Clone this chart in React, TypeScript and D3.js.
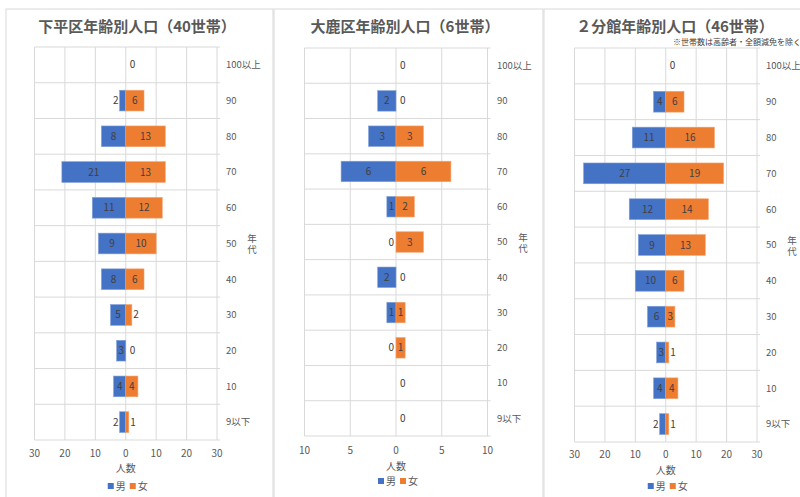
import React from "react";
import * as d3 from "d3";

const categories = ["100以上", "90", "80", "70", "60", "50", "40", "30", "20", "10", "9以下"];

const shimoMale = [0, 2, 8, 21, 11, 9, 8, 5, 3, 4, 2];
const shimoFemale = [0, 6, 13, 13, 12, 10, 6, 2, 0, 4, 1];

const oshikaMale = [0, 2, 3, 6, 1, 0, 2, 1, 0, 0, 0];
const oshikaFemale = [0, 0, 3, 6, 2, 3, 0, 1, 1, 0, 0];

const bunkanMale = [0, 4, 11, 27, 12, 9, 10, 6, 3, 4, 2];
const bunkanFemale = [0, 6, 16, 19, 14, 13, 6, 3, 1, 4, 1];

const seriesNames = ["男", "女"];
const titles = ["下平区年齢別人口（40世帯）", "大鹿区年齢別人口（6世帯）", "２分館年齢別人口（46世帯）"];
const note = "※世帯数は高齢者・全額減免を除く";
const xTicks1 = [-30, -20, -10, 0, 10, 20, 30];
const xTicks2 = [-10, -5, 0, 5, 10];

const BLUE = "#4472C4";
const ORANGE = "#ED7D31";
const GRID = "#d9d9d9";
const AXIS_TEXT = "#595959";
const LABEL = "#404040";
const FONT = "'Noto Sans CJK JP', 'Noto Sans', sans-serif";

type PanelCfg = {
  title: string;
  male: number[];
  female: number[];
  max: number;
  ticks: number[];
  frame: [number, number];
  plotL: number;
  plotR: number;
  top: number;
  bottom: number;
  titleX: number;
  tickY: number;
  axisTitleY: number;
  legendY: number;
  catX: number;
  nendaiX: number;
  note?: boolean;
};

const panels: PanelCfg[] = [
  {
    title: titles[0], male: shimoMale, female: shimoFemale, max: 30, ticks: xTicks1,
    frame: [6, 273], plotL: 34.5, plotR: 217, top: 47, bottom: 440, titleX: 137,
    tickY: 453, axisTitleY: 468, legendY: 486, catX: 226, nendaiX: 252,
  },
  {
    title: titles[1], male: oshikaMale, female: oshikaFemale, max: 10, ticks: xTicks2,
    frame: [274, 543], plotL: 304.5, plotR: 487.5, top: 48, bottom: 436, titleX: 405,
    tickY: 450, axisTitleY: 466, legendY: 481, catX: 497, nendaiX: 523,
  },
  {
    title: titles[2], male: bunkanMale, female: bunkanFemale, max: 30, ticks: xTicks1,
    frame: [544, 810], plotL: 574.5, plotR: 757, top: 48, bottom: 442, titleX: 675,
    tickY: 454, axisTitleY: 470, legendY: 486, catX: 766, nendaiX: 792, note: true,
  },
];

function Panel({ cfg }: { cfg: PanelCfg }) {
  const x = d3.scaleLinear().domain([-cfg.max, cfg.max]).range([cfg.plotL, cfg.plotR]);
  const y = d3.scaleBand<string>().domain(categories).range([cfg.top, cfg.bottom]).paddingInner(0.42).paddingOuter(0.21);
  const x0 = x(0);
  const bounds = d3.range(categories.length + 1).map((i) => cfg.top + i * ((cfg.bottom - cfg.top) / categories.length));
  const bandCenter = (c: string) => (y(c) as number) + y.bandwidth() / 2;

  return (
    <g>
      <rect x={cfg.frame[0]} y={9} width={cfg.frame[1] - cfg.frame[0]} height={520} fill="#fff" stroke={GRID} strokeWidth={1} />
      <text x={cfg.titleX} y={31.5} textAnchor="middle" fontSize={15} fontWeight="bold" fill={AXIS_TEXT}>{cfg.title}</text>
      {cfg.note && (
        <text x={673} y={44.5} fontSize={8} fill={LABEL}>{note}</text>
      )}
      {cfg.ticks.map((t) => (
        <line key={"v" + t} x1={x(t)} x2={x(t)} y1={cfg.top} y2={cfg.bottom} stroke={GRID} strokeWidth={1} />
      ))}
      {bounds.map((b, i) => (
        <line key={"h" + i} x1={cfg.plotL} x2={cfg.plotR + 3} y1={b} y2={b} stroke={GRID} strokeWidth={1} />
      ))}
      {categories.map((c, i) => {
        const m = cfg.male[i];
        const f = cfg.female[i];
        const yy = y(c) as number;
        return (
          <g key={c}>
            {m > 0 && <rect x={x(-m)} y={yy} width={x0 - x(-m)} height={y.bandwidth()} fill={BLUE} stroke="#7f9fd8" strokeWidth={0.6} />}
            {f > 0 && <rect x={x0} y={yy} width={x(f) - x0} height={y.bandwidth()} fill={ORANGE} stroke="#f3a26e" strokeWidth={0.6} />}
          </g>
        );
      })}
      {categories.map((c, i) => {
        const m = cfg.male[i];
        const f = cfg.female[i];
        const cy = bandCenter(c);
        const out: React.ReactNode[] = [];
        const wm = x0 - x(-m);
        const wf = x(f) - x0;
        if (!(m === 0 && f === 0)) {
          if (m === 0) {
            out.push(<text key="m" x={x0 - 2} y={cy} dy="0.35em" textAnchor="end" fontSize={10} fill={LABEL}>{m}</text>);
          } else if (wm >= 8) {
            out.push(<text key="m" x={x0 - wm / 2} y={cy} dy="0.35em" textAnchor="middle" fontSize={10} fill={LABEL}>{m}</text>);
          } else {
            out.push(<text key="m" x={x(-m) - 1} y={cy} dy="0.35em" textAnchor="end" fontSize={10} fill={LABEL}>{m}</text>);
          }
        }
        if (f === 0) {
          out.push(<text key="f" x={x0 + 4} y={cy} dy="0.35em" textAnchor="start" fontSize={10} fill={LABEL}>{f}</text>);
        } else if (wf >= 8) {
          out.push(<text key="f" x={x0 + wf / 2} y={cy} dy="0.35em" textAnchor="middle" fontSize={10} fill={LABEL}>{f}</text>);
        } else {
          out.push(<text key="f" x={x(f) + 1.5} y={cy} dy="0.35em" textAnchor="start" fontSize={10} fill={LABEL}>{f}</text>);
        }
        return <g key={"l" + c}>{out}</g>;
      })}
      {categories.map((c) => (
        <text key={"c" + c} x={cfg.catX} y={bandCenter(c)} dy="0.35em" fontSize={9.5} fill={AXIS_TEXT}>{c}</text>
      ))}
      <text
        x={cfg.nendaiX}
        y={bandCenter("50") + 1.5}
        textAnchor="middle"
        fontSize={9.5}
        fill={AXIS_TEXT}
        style={{ writingMode: "vertical-rl", letterSpacing: "1.5px" }}
      >
        年代
      </text>
      {cfg.ticks.map((t) => (
        <text key={"t" + t} x={x(t)} y={cfg.tickY} dy="0.35em" textAnchor="middle" fontSize={10} fill={AXIS_TEXT}>{Math.abs(t)}</text>
      ))}
      <text x={x0} y={cfg.axisTitleY} dy="0.35em" textAnchor="middle" fontSize={10} fill={AXIS_TEXT}>人数</text>
      <rect x={x0 - 18} y={cfg.legendY - 3} width={6} height={6} fill={BLUE} />
      <text x={x0 - 10} y={cfg.legendY} dy="0.35em" fontSize={10} fill={AXIS_TEXT}>{seriesNames[0]}</text>
      <rect x={x0 + 4} y={cfg.legendY - 3} width={6} height={6} fill={ORANGE} />
      <text x={x0 + 12} y={cfg.legendY} dy="0.35em" fontSize={10} fill={AXIS_TEXT}>{seriesNames[1]}</text>
    </g>
  );
}

export default function App() {
  return (
    <svg width={800} height={497} style={{ position: "absolute", left: 0, top: 0, fontFamily: FONT }}>
      <rect width={800} height={497} fill="#fff" />
      {panels.map((p, i) => (
        <Panel key={i} cfg={p} />
      ))}
    </svg>
  );
}
